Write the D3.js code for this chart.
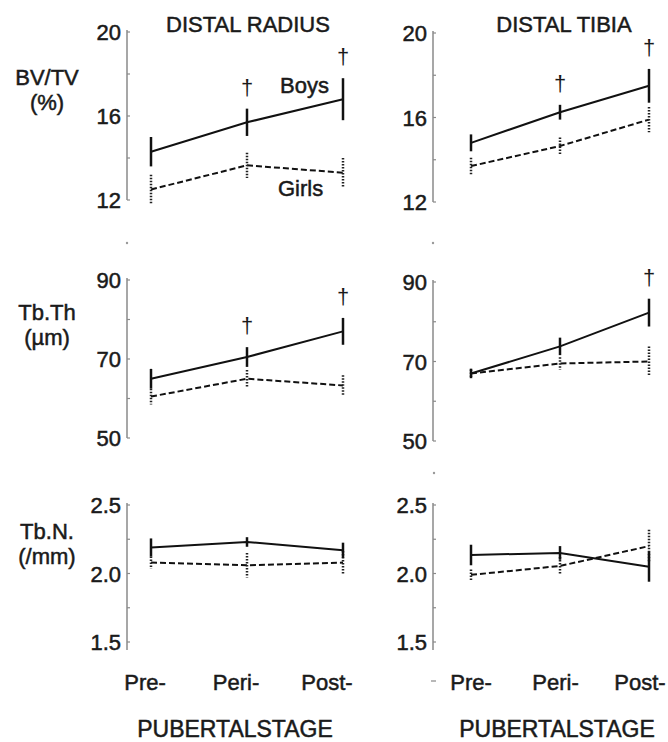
<!DOCTYPE html>
<html lang="en">
  <head>
    <meta charset="UTF-8">
    <title>Bone microarchitecture by pubertal stage</title>
    <style>
      body { margin: 0; background: #fff; }
      text {
        font-family: "Liberation Sans", Arial, sans-serif;
        font-size: 22px;
        fill: #1a1a1a;
        stroke: #1a1a1a;
        stroke-width: 0.5px;
      }
      .axis-line { stroke: #8a8a8a; stroke-width: 1.5px; fill: none; }
      .tick-mark { stroke: #8a8a8a; stroke-width: 1.2px; }
      .boys-line { fill: none; stroke: #111; stroke-width: 2px; }
      .girls-line { fill: none; stroke: #111; stroke-width: 2px; stroke-dasharray: 6, 3; }
      .boys-err { stroke: #111; stroke-width: 2.5px; }
      .girls-err { stroke: #222; stroke-width: 2.5px; stroke-dasharray: 1.5, 1.5; }
      .stray { fill: #999; }
      .dagger { stroke-width: 0; }
    </style>
  </head>
  <body>
    <script src="https://d3js.org/d3.v7.min.js"></script>
    <script>
      // categories
      const stages = ["Pre-", "Peri-", "Post-"];
      const sites = ["DISTAL RADIUS", "DISTAL TIBIA"];

      // BV/TV (%)
      const bvtvRadiusBoys = [14.3, 15.7, 16.8];
      const bvtvRadiusBoysSd = [0.7, 0.65, 1.0];
      const bvtvRadiusGirls = [12.5, 13.65, 13.3];
      const bvtvRadiusGirlsSd = [0.7, 0.6, 0.7];
      const bvtvTibiaBoys = [14.8, 16.25, 17.5];
      const bvtvTibiaBoysSd = [0.4, 0.35, 0.8];
      const bvtvTibiaGirls = [13.7, 14.65, 15.9];
      const bvtvTibiaGirlsSd = [0.4, 0.4, 0.6];

      // Tb.Th (um)
      const tbthRadiusBoys = [65, 70.5, 77];
      const tbthRadiusBoysSd = [2.5, 2.5, 3.4];
      const tbthRadiusGirls = [60.5, 65, 63.3];
      const tbthRadiusGirlsSd = [2, 2.2, 2.6];
      const tbthTibiaBoys = [67, 73.8, 82.3];
      const tbthTibiaBoysSd = [1.2, 2.2, 3.5];
      const tbthTibiaGirls = [67, 69.5, 70];
      const tbthTibiaGirlsSd = [1, 1.6, 3.8];

      // Tb.N (/mm)
      const tbnRadiusBoys = [2.19, 2.23, 2.17];
      const tbnRadiusBoysSd = [0.066, 0.035, 0.055];
      const tbnRadiusGirls = [2.08, 2.06, 2.08];
      const tbnRadiusGirlsSd = [0.045, 0.09, 0.085];
      const tbnTibiaBoys = [2.135, 2.15, 2.05];
      const tbnTibiaBoysSd = [0.075, 0.05, 0.11];
      const tbnTibiaGirls = [1.99, 2.055, 2.2];
      const tbnTibiaGirlsSd = [0.04, 0.065, 0.12];

      // tick labels
      const bvtvTicks = [12, 16, 20];
      const bvtvMinor = [14, 18];
      const tbthTicks = [50, 70, 90];
      const tbthMinor = [60, 80];
      const tbnTicks = [1.5, 2.0, 2.5];
      const tbnMinor = [1.75, 2.25];

      // significant boys vs girls (dagger), per row: [radius stages, tibia stages]
      const bvtvSig = [["Peri-", "Post-"], ["Peri-", "Post-"]];
      const tbthSig = [["Peri-", "Post-"], ["Post-"]];
      const tbnSig = [[], []];

      const W = 668, H = 742;
      const svg = d3.select("body").append("svg")
        .attr("width", W).attr("height", H);

      // column layout
      const columns = [
        { axisX: 127, x: d3.scalePoint().domain(stages).range([151, 343]),
          labelX: d3.scalePoint().domain(stages).range([145, 327]), titleX: 248, stageX: 235 },
        { axisX: 433, x: d3.scalePoint().domain(stages).range([471, 649]),
          labelX: d3.scalePoint().domain(stages).range([471, 640]), titleX: 564, stageX: 557 }
      ];

      const rows = [
        { title: ["BV/TV", "(%)"], titleY: [85, 110], ticks: bvtvTicks, minor: bvtvMinor, fmt: d3.format("d"),
          domain: [12, 20], ranges: [[200, 32], [202, 33]], axisExtra: 0,
          data: [
            [bvtvRadiusBoys, bvtvRadiusBoysSd, bvtvRadiusGirls, bvtvRadiusGirlsSd],
            [bvtvTibiaBoys, bvtvTibiaBoysSd, bvtvTibiaGirls, bvtvTibiaGirlsSd]
          ], sig: bvtvSig },
        { title: ["Tb.Th", "(\u00b5m)"], titleY: [320, 345], ticks: tbthTicks, minor: tbthMinor, fmt: d3.format("d"),
          domain: [50, 90], ranges: [[438, 280], [441, 282]], axisExtra: 0,
          data: [
            [tbthRadiusBoys, tbthRadiusBoysSd, tbthRadiusGirls, tbthRadiusGirlsSd],
            [tbthTibiaBoys, tbthTibiaBoysSd, tbthTibiaGirls, tbthTibiaGirlsSd]
          ], sig: tbthSig },
        { title: ["Tb.N.", "(/mm)"], titleY: [539, 564], ticks: tbnTicks, minor: tbnMinor, fmt: d3.format(".1f"),
          domain: [1.5, 2.5], ranges: [[642, 505], [642, 505]], axisExtra: 8,
          data: [
            [tbnRadiusBoys, tbnRadiusBoysSd, tbnRadiusGirls, tbnRadiusGirlsSd],
            [tbnTibiaBoys, tbnTibiaBoysSd, tbnTibiaGirls, tbnTibiaGirlsSd]
          ], sig: tbnSig }
      ];

      rows.forEach((row, ri) => {
        // row title on the left
        svg.append("text").attr("x", 47).attr("y", row.titleY[0])
          .attr("text-anchor", "middle").text(row.title[0]);
        svg.append("text").attr("x", 47).attr("y", row.titleY[1])
          .attr("text-anchor", "middle").text(row.title[1]);

        columns.forEach((col, ci) => {
          const y = d3.scaleLinear().domain(row.domain).range(row.ranges[ci]);
          const g = svg.append("g");

          // y axis
          g.append("line").attr("class", "axis-line")
            .attr("x1", col.axisX).attr("x2", col.axisX)
            .attr("y1", y(row.domain[1]) - 2).attr("y2", y(row.domain[0]) + row.axisExtra);
          g.selectAll(".major").data(row.ticks).enter().append("line")
            .attr("class", "tick-mark")
            .attr("x1", col.axisX).attr("x2", col.axisX + 3)
            .attr("y1", d => y(d)).attr("y2", d => y(d));
          g.selectAll(".minor").data(row.minor).enter().append("line")
            .attr("class", "tick-mark")
            .attr("x1", col.axisX).attr("x2", col.axisX + 3)
            .attr("y1", d => y(d)).attr("y2", d => y(d));
          g.selectAll(".tlabel").data(row.ticks).enter().append("text")
            .attr("x", col.axisX - 6).attr("y", d => y(d) + 8)
            .attr("text-anchor", "end").text(d => row.fmt(d));

          const [boys, boysSd, girls, girlsSd] = row.data[ci];
          const line = d3.line().x((d, i) => col.x(stages[i])).y(d => y(d));

          // girls (dashed)
          g.append("path").attr("class", "girls-line").attr("d", line(girls));
          g.selectAll(".gerr").data(girls).enter().append("line")
            .attr("class", "girls-err")
            .attr("x1", (d, i) => col.x(stages[i])).attr("x2", (d, i) => col.x(stages[i]))
            .attr("y1", (d, i) => y(d + girlsSd[i])).attr("y2", (d, i) => y(d - girlsSd[i]));

          // boys (solid)
          g.append("path").attr("class", "boys-line").attr("d", line(boys));
          g.selectAll(".berr").data(boys).enter().append("line")
            .attr("class", "boys-err")
            .attr("x1", (d, i) => col.x(stages[i])).attr("x2", (d, i) => col.x(stages[i]))
            .attr("y1", (d, i) => y(d + boysSd[i])).attr("y2", (d, i) => y(d - boysSd[i]));

          // daggers
          g.selectAll(".dagger").data(row.sig[ci]).enter().append("text")
            .attr("class", "dagger")
            .attr("text-anchor", "middle")
            .attr("x", d => col.x(d))
            .attr("y", d => {
              const i = stages.indexOf(d);
              return y(boys[i] + boysSd[i]) - 14;
            })
            .text("\u2020");
        });
      });

      // column titles and x labels
      columns.forEach((col, ci) => {
        svg.append("text").attr("x", col.titleX).attr("y", 32)
          .attr("text-anchor", "middle").text(sites[ci]);
        svg.selectAll(null).data(stages).enter().append("text")
          .attr("x", d => col.labelX(d)).attr("y", 690)
          .attr("text-anchor", "middle").text(d => d);
        svg.append("text").attr("x", col.stageX).attr("y", 737)
          .attr("text-anchor", "middle").style("font-size", "23px").text("PUBERTALSTAGE");
      });

      // series labels
      svg.append("text").attr("x", 280).attr("y", 93).text("Boys");
      svg.append("text").attr("x", 278).attr("y", 196).text("Girls");

      // small scan specks in the original
      const specks = [[127, 243], [433, 243], [434, 473]];
      svg.selectAll(".stray").data(specks).enter().append("circle")
        .attr("class", "stray").attr("cx", d => d[0]).attr("cy", d => d[1]).attr("r", 1.2);
      svg.append("line").attr("x1", 431).attr("x2", 436).attr("y1", 681).attr("y2", 681)
        .attr("stroke", "#888").attr("stroke-width", 1.2);
    </script>
  </body>
</html>
